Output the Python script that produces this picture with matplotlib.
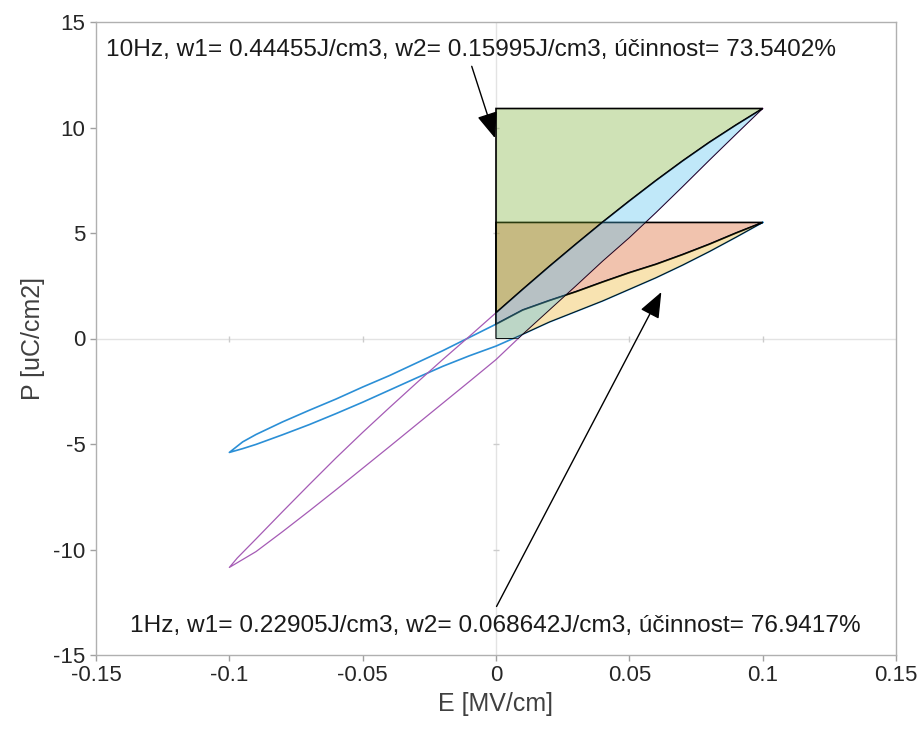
import numpy as np
import matplotlib
matplotlib.use('Agg')
from matplotlib import pyplot as plt

plt.rcParams.update({
    "font.family": ["Liberation Sans", "DejaVu Sans"],
    "font.size": 15,
    "axes.unicode_minus": False,
})

#%% Hysteresis loops (E in MV/cm, P in uC/cm2)

# 10 Hz loop, descending (upper) branch from +Emax to -Emax
e_10_up = [0.100, 0.090, 0.080, 0.070, 0.060, 0.050, 0.040, 0.030, 0.020, 0.010, 0.000,
           -0.010, -0.020, -0.030, -0.040, -0.050, -0.060, -0.070, -0.080, -0.090, -0.097, -0.100]
p_10_up = [10.90, 10.12, 9.30, 8.42, 7.49, 6.52, 5.52, 4.48, 3.42, 2.33, 1.22,
           0.10, -1.00, -2.13, -3.28, -4.45, -5.66, -6.92, -8.20, -9.50, -10.40, -10.85]
# 10 Hz loop, ascending (lower) branch from -Emax to +Emax
e_10_dn = [-0.100, -0.090, -0.080, -0.070, -0.060, -0.050, -0.040, -0.030, -0.020, -0.010, 0.000,
           0.010, 0.020, 0.030, 0.040, 0.050, 0.060, 0.070, 0.080, 0.090, 0.100]
p_10_dn = [-10.85, -10.10, -9.15, -8.17, -7.17, -6.15, -5.13, -4.10, -3.07, -2.04, -1.00,
           0.20, 1.35, 2.50, 3.67, 4.78, 5.97, 7.20, 8.45, 9.68, 10.90]

# 1 Hz loop, descending (upper) branch
e_1_up = [0.100, 0.090, 0.080, 0.070, 0.060, 0.050, 0.040, 0.030, 0.020, 0.010, 0.000,
          -0.010, -0.020, -0.030, -0.040, -0.050, -0.060, -0.070, -0.080, -0.090, -0.095, -0.100]
p_1_up = [5.50, 5.00, 4.47, 3.98, 3.52, 3.12, 2.68, 2.22, 1.80, 1.35, 0.68,
          0.05, -0.58, -1.17, -1.76, -2.30, -2.87, -3.40, -3.95, -4.55, -4.90, -5.40]
# 1 Hz loop, ascending (lower) branch
e_1_dn = [-0.100, -0.095, -0.090, -0.080, -0.070, -0.060, -0.050, -0.040, -0.030, -0.020, -0.010, 0.000,
          0.010, 0.020, 0.030, 0.040, 0.050, 0.060, 0.070, 0.080, 0.090, 0.100]
p_1_dn = [-5.40, -5.22, -5.02, -4.56, -4.08, -3.56, -3.02, -2.45, -1.88, -1.32, -0.82, -0.36,
          0.20, 0.78, 1.28, 1.78, 2.33, 2.88, 3.48, 4.12, 4.80, 5.50]

label_10 = "10Hz, w1= 0.44455J/cm3, w2= 0.15995J/cm3, účinnost= 73.5402%"
label_1 = "1Hz, w1= 0.22905J/cm3, w2= 0.068642J/cm3, účinnost= 76.9417%"

x_ticks = [-0.15, -0.1, -0.05, 0, 0.05, 0.1, 0.15]
x_ticklabels = ["-0.15", "-0.1", "-0.05", "0", "0.05", "0.1", "0.15"]
y_ticks = [-15, -10, -5, 0, 5, 10, 15]


def energy_polygons(e_up, p_up, e_dn, p_dn):
    """Recoverable area (left of discharge branch) and loss area (between branches), E>=0."""
    e_up, p_up = np.asarray(e_up), np.asarray(p_up)
    e_dn, p_dn = np.asarray(e_dn), np.asarray(p_dn)
    pmax = p_up[0]
    m = e_up >= 0
    up = np.column_stack([e_up[m], p_up[m]])  # from Emax down to E=0
    rec = np.vstack([[[0, pmax]], up])
    # where the charging branch crosses P=0
    e0 = np.interp(0, p_dn, e_dn)
    k = e_dn > e0
    dn = np.column_stack([e_dn[k], p_dn[k]])
    loss = np.vstack([up, [[0, 0], [e0, 0]], dn])
    return rec, loss


rec_10, loss_10 = energy_polygons(e_10_up, p_10_up, e_10_dn, p_10_dn)
rec_1, loss_1 = energy_polygons(e_1_up, p_1_up, e_1_dn, p_1_dn)

#%% Plot

fig = plt.figure(figsize=(9.23, 7.31), dpi=100)
ax = fig.add_axes([96 / 923, 76 / 731, 800 / 923, 633 / 731])

# origin axes
ax.axhline(0, color="#e3e3e3", lw=1, zorder=0)
ax.axvline(0, color="#e3e3e3", lw=1, zorder=0)
ax.plot([-0.1, -0.05, 0.05, 0.1], [0, 0, 0, 0], ls="none", marker="|", ms=4, color="#cccccc", zorder=0)
ax.plot([0, 0, 0, 0], [-10, -5, 5, 10], ls="none", marker="_", ms=4, color="#cccccc", zorder=0)

# loops
ax.plot(e_1_up + e_1_dn, p_1_up + p_1_dn, color="#2b8fd6", lw=1.2, zorder=1)
ax.plot(e_10_up + e_10_dn, p_10_up + p_10_dn, color="#a55bb5", lw=0.9, zorder=1)

# energy areas, 1 Hz first, 10 Hz on top
ax.fill(rec_1[:, 0], rec_1[:, 1], facecolor="#D95319", alpha=0.35, edgecolor="none", zorder=2)
ax.fill(rec_1[:, 0], rec_1[:, 1], facecolor="none", edgecolor="k", lw=1.2, zorder=2)
ax.fill(loss_1[:, 0], loss_1[:, 1], facecolor="#EDB120", alpha=0.35, edgecolor="none", zorder=2)
ax.fill(loss_1[:, 0], loss_1[:, 1], facecolor="none", edgecolor="k", lw=0.6, zorder=2)
ax.fill(rec_10[:, 0], rec_10[:, 1], facecolor="#77AC30", alpha=0.35, edgecolor="none", zorder=3)
ax.fill(rec_10[:, 0], rec_10[:, 1], facecolor="none", edgecolor="k", lw=1.2, zorder=3)
ax.fill(loss_10[:, 0], loss_10[:, 1], facecolor="#4DBEEE", alpha=0.35, edgecolor="none", zorder=3)
ax.fill(loss_10[:, 0], loss_10[:, 1], facecolor="none", edgecolor="k", lw=0.5, zorder=3)

# text arrows
arrow = dict(arrowstyle="-|>,head_length=0.8,head_width=0.32", color="black", lw=1,
             mutation_scale=20, shrinkA=0, shrinkB=0)
ax.annotate("", xy=(-0.0004, 9.5), xytext=(-0.0091, 12.9), arrowprops=arrow, zorder=5)
ax.annotate("", xy=(0.062, 2.2), xytext=(0.0002, -12.7), arrowprops=arrow, zorder=5)
ax.text(-0.0094, 13.67, label_10, ha="center", va="center", fontsize=17.6, color="#1a1a1a", zorder=6)
ax.text(-0.0004, -13.63, label_1, ha="center", va="center", fontsize=17.6, color="#1a1a1a", zorder=6)

ax.set_xlim(-0.15, 0.15)
ax.set_ylim(-15, 15)
ax.set_xticks(x_ticks)
ax.set_xticklabels(x_ticklabels)
ax.set_yticks(y_ticks)
ax.tick_params(direction="out", length=4, width=1, color="#a0a0a0", labelcolor="#262626", labelsize=16)
for s in ax.spines.values():
    s.set_color("#b0b0b0")
    s.set_linewidth(1)
ax.set_xlabel("E [MV/cm]", fontsize=18, color="#404040", labelpad=4)
ax.set_ylabel("P [uC/cm2]", fontsize=18, color="#404040", labelpad=6)

fig.savefig("out.png", dpi=100)
